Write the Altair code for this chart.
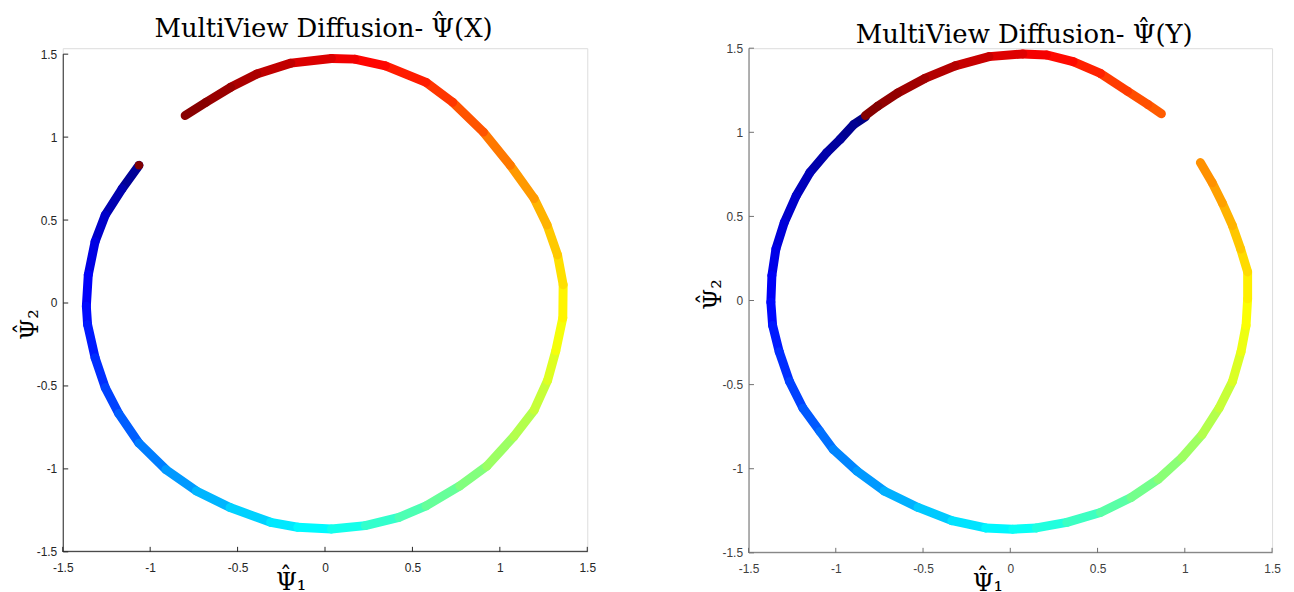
import altair as alt
import pandas as pd

TICKS = [-1.5, -1.0, -0.5, 0.0, 0.5, 1.0, 1.5]

# ---- Left panel: MultiView Diffusion - Psi(X) : one arc, colour value t (0..1)
LX = [-1.064, -1.16, -1.257, -1.315, -1.354, -1.365, -1.358, -1.315, -1.257, -1.18,
      -1.064, -0.91, -0.736, -0.543, -0.311, -0.156, 0.037, 0.23, 0.423, 0.578,
      0.771, 0.925, 1.08, 1.196, 1.273, 1.32, 1.36, 1.362, 1.33, 1.27,
      1.196, 1.06, 0.906, 0.73, 0.578, 0.346, 0.17, 0.037, -0.195, -0.39,
      -0.54, -0.68, -0.80]
LY = [0.83, 0.69, 0.53, 0.37, 0.17, -0.02, -0.13, -0.33, -0.51, -0.666,
      -0.845, -1.004, -1.133, -1.233, -1.322, -1.352, -1.362, -1.342, -1.292, -1.223,
      -1.103, -0.984, -0.805, -0.646, -0.467, -0.288, -0.09, 0.11, 0.29, 0.47,
      0.63, 0.83, 1.03, 1.21, 1.33, 1.43, 1.47, 1.474, 1.446, 1.38,
      1.30, 1.21, 1.13]
LT = [0.01, 0.035, 0.06, 0.085, 0.11, 0.13, 0.14, 0.16, 0.18, 0.20,
      0.235, 0.26, 0.29, 0.315, 0.345, 0.36, 0.38, 0.41, 0.44, 0.46,
      0.49, 0.515, 0.54, 0.56, 0.58, 0.605, 0.625, 0.645, 0.665, 0.69,
      0.71, 0.74, 0.775, 0.81, 0.835, 0.86, 0.88, 0.895, 0.925, 0.95,
      0.965, 0.985, 1.0]
# lone dark-red point at the start of the blue arc
LDOT_X = [-1.064]
LDOT_Y = [0.83]
LDOT_T = [1.0]

# ---- Right panel: MultiView Diffusion - Psi(Y) : two arcs (gap at upper right)
RAX = [-0.83, -0.897, -0.975, -1.052, -1.149, -1.227, -1.295, -1.343, -1.366, -1.372,
       -1.362, -1.324, -1.265, -1.188, -1.091, -1.014, -0.878, -0.723, -0.529, -0.335,
       -0.141, 0.014, 0.149, 0.324, 0.517, 0.692, 0.847, 0.983, 1.099, 1.196,
       1.273, 1.322, 1.351, 1.36, 1.36, 1.32, 1.273, 1.215, 1.157, 1.089]
RAY = [1.092, 1.046, 0.958, 0.879, 0.76, 0.622, 0.464, 0.307, 0.149, -0.01,
       -0.148, -0.305, -0.482, -0.64, -0.778, -0.886, -1.014, -1.132, -1.23, -1.309,
       -1.352, -1.36, -1.352, -1.319, -1.26, -1.171, -1.063, -0.935, -0.797, -0.64,
       -0.482, -0.305, -0.148, 0.01, 0.17, 0.306, 0.445, 0.58, 0.70, 0.82]
RAT = [0.0, 0.01, 0.025, 0.035, 0.05, 0.065, 0.08, 0.095, 0.11, 0.125,
       0.14, 0.16, 0.18, 0.20, 0.225, 0.245, 0.265, 0.285, 0.31, 0.335,
       0.36, 0.375, 0.395, 0.42, 0.45, 0.475, 0.50, 0.52, 0.54, 0.56,
       0.58, 0.60, 0.615, 0.63, 0.65, 0.67, 0.69, 0.71, 0.725, 0.74]
RBX = [0.866, 0.789, 0.672, 0.517, 0.36, 0.207, 0.072, -0.122, -0.316, -0.49,
       -0.645, -0.76, -0.83]
RBY = [1.11, 1.165, 1.244, 1.35, 1.42, 1.46, 1.466, 1.45, 1.395, 1.32,
       1.234, 1.155, 1.10]
RBT = [0.78, 0.79, 0.805, 0.83, 0.855, 0.875, 0.895, 0.92, 0.94, 0.96,
       0.975, 0.99, 1.0]

JET_DOMAIN = [0.0, 0.125, 0.375, 0.625, 0.875, 1.0]
JET_RANGE = ["#000080", "#0000ff", "#00ffff", "#ffff00", "#ff0000", "#800000"]
COLOR_SCALE = alt.Scale(domain=JET_DOMAIN, range=JET_RANGE, interpolate="rgb", clamp=True)

SERIF = "DejaVu Serif"
HAT = "\u02c6"


def segments(arcs):
    rows = []
    sid = 0
    for xs, ys, ts in arcs:
        for i in range(len(xs) - 1):
            tm = (ts[i] + ts[i + 1]) / 2
            rows.append({"seg": sid, "k": 0, "x": xs[i], "y": ys[i], "t": tm})
            rows.append({"seg": sid, "k": 1, "x": xs[i + 1], "y": ys[i + 1], "t": tm})
            sid += 1
    return pd.DataFrame(rows)


def text_layer(txt, x, y, size, angle=0):
    d = pd.DataFrame({"label": [txt]})
    kw = dict(font=SERIF, fontSize=size, baseline="alphabetic", align="center",
              color="#000000")
    if angle:
        kw["angle"] = angle
    return alt.Chart(d).mark_text(**kw).encode(
        x=alt.value(x), y=alt.value(y), text="label:N")


def panel(arcs, dots, W, H, ydom, title, title_x, title_y, title_hat_x,
          xt_x, xt_y, yt_x, yt_y, axis_color, label_color):
    xs = alt.Scale(domain=[-1.5, 1.5], nice=False, zero=False)
    ys = alt.Scale(domain=ydom, nice=False, zero=False)
    common = dict(values=TICKS, domain=False, ticks=False, grid=False,
                  labelFont="Liberation Sans", labelFontSize=12, labelColor=label_color,
                  labelFlush=False, labelOverlap=False, labelExpr="'' + datum.value",
                  titleFont=SERIF, titleFontSize=24, titleFontWeight="normal",
                  titleColor="#000000", titleAlign="center", titleBaseline="alphabetic")
    xaxis = alt.Axis(title="\u03a8\u2081", labelPadding=11,
                     titleX=xt_x, titleY=xt_y, **common)
    yaxis = alt.Axis(title="\u03a8\u2082", labelPadding=6, titleAngle=270,
                     titleX=yt_x, titleY=yt_y, **common)

    seg = segments(arcs)
    lines = alt.Chart(seg).mark_line(strokeWidth=9, strokeCap="round", strokeJoin="round").encode(
        x=alt.X("x:Q", scale=xs, axis=xaxis),
        y=alt.Y("y:Q", scale=ys, axis=yaxis),
        color=alt.Color("t:Q", scale=COLOR_SCALE, legend=None),
        detail="seg:N",
        order="k:O",
    )
    layers = [lines]
    if dots is not None:
        ddf = pd.DataFrame({"x": dots[0], "y": dots[1], "t": dots[2]})
        layers.append(alt.Chart(ddf).mark_circle(size=75, opacity=1).encode(
            x=alt.X("x:Q", scale=xs, axis=xaxis),
            y=alt.Y("y:Q", scale=ys, axis=yaxis),
            color=alt.Color("t:Q", scale=COLOR_SCALE, legend=None),
        ))
    tdf = pd.DataFrame({"x": TICKS, "y": TICKS})
    layers.append(alt.Chart(tdf).mark_rule(color=axis_color, strokeWidth=1).encode(
        x=alt.X("x:Q", scale=xs, axis=xaxis), y=alt.value(H), y2=alt.value(H - 5)))
    layers.append(alt.Chart(tdf).mark_rule(color=axis_color, strokeWidth=1).encode(
        y=alt.Y("y:Q", scale=ys, axis=yaxis), x=alt.value(0.5), x2=alt.value(5.5)))
    ddom = pd.DataFrame({"x": [TICKS[0]], "x2": [TICKS[-1]], "y": [TICKS[0]], "y2": [TICKS[-1]]})
    layers.append(alt.Chart(ddom).mark_rule(color=axis_color, strokeWidth=1).encode(
        x=alt.value(0.5), y=alt.Y("y:Q", scale=ys, axis=yaxis), y2="y2:Q"))
    layers.append(alt.Chart(ddom).mark_rule(color=axis_color, strokeWidth=1).encode(
        x=alt.X("x:Q", scale=xs, axis=xaxis), x2="x2:Q", y=alt.value(H - 0.5)))
    # panel title and the hats over Psi
    layers.append(text_layer(title, title_x, title_y, 26))
    layers.append(text_layer(HAT, title_hat_x, title_y - 5, 26))
    layers.append(text_layer(HAT, xt_x - 5, H + xt_y - 6, 24))
    layers.append(text_layer(HAT, yt_x - 6, yt_y + 5, 24, angle=270))
    return alt.layer(*layers).properties(width=W, height=H)


left = panel([(LX, LY, LT)], (LDOT_X, LDOT_Y, LDOT_T), 527, 506, [-1.5, 1.536],
             "MultiView Diffusion- \u03a8(X)", 262, -11, 378,
             229, 38, -25, 277, "#262626", "#262626")
right = panel([(RAX, RAY, RAT), (RBX, RBY, RBT)], None, 526, 507, [-1.5, 1.5],
              "MultiView Diffusion- \u03a8(Y)", 277, -5, 397,
              240, 38, -28, 247, "#707070", "#404040")

chart = alt.hconcat(left, right, spacing=162, bounds="flush").properties(
    padding={"left": 4, "top": 1, "right": 5, "bottom": 0}
).configure_view(strokeWidth=0).configure(background="white")

chart.save("out.html", embed_options={"renderer": "svg", "actions": False})
